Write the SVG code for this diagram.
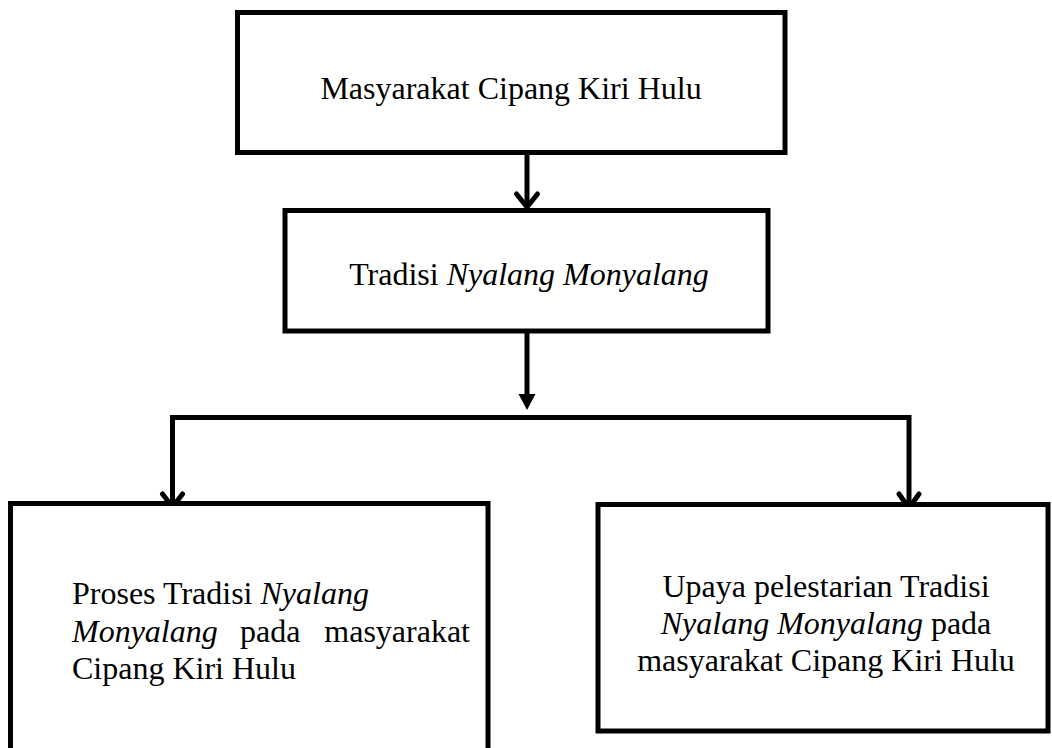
<svg xmlns="http://www.w3.org/2000/svg" width="1052" height="748" viewBox="0 0 1052 748">
<style>
.box{fill:#fff;stroke:#000;stroke-width:5}
.ln{fill:none;stroke:#000;stroke-width:5}
.chev{fill:none;stroke:#000;stroke-width:5;stroke-linecap:round;stroke-linejoin:miter}
.t{font-family:"Liberation Serif","Times New Roman",serif;font-size:32px;fill:#000}
.i{font-style:italic}
</style>
<rect width="1052" height="748" fill="#fff"/>
<g id="connectors">
  <line class="ln" x1="527" y1="152" x2="527" y2="207"/>
  <polyline class="chev" points="516.5,194 527,207 537.5,194"/>
  <line class="ln" x1="527" y1="331" x2="527" y2="396"/>
  <polygon points="518.5,394 535.5,394 527,410" fill="#000"/>
  <polyline class="ln" points="172.5,505 172.5,417.5 909,417.5 909,507"/>
  <polyline class="chev" points="162.5,494 172.5,507 182.5,494"/>
  <polyline class="chev" points="899,494 909,508 919,494"/>
</g>
<g id="node-masyarakat">
  <rect class="box" x="237.5" y="12.5" width="547.5" height="140"/>
  <text class="t" x="511" y="99" text-anchor="middle">Masyarakat Cipang Kiri Hulu</text>
</g>
<g id="node-tradisi">
  <rect class="box" x="285" y="210.5" width="483" height="120.5"/>
  <text class="t" x="529" y="285" text-anchor="middle">Tradisi <tspan class="i">Nyalang Monyalang</tspan></text>
</g>
<g id="node-proses">
  <rect class="box" x="10.5" y="503.5" width="477.5" height="260"/>
  <text class="t" x="72" y="604">Proses Tradisi <tspan class="i">Nyalang</tspan></text>
  <text class="t i" x="72" y="642">Monyalang</text>
  <text class="t" x="240" y="642">pada</text>
  <text class="t" x="470" y="642" text-anchor="end">masyarakat</text>
  <text class="t" x="72" y="679">Cipang Kiri Hulu</text>
</g>
<g id="node-upaya">
  <rect class="box" x="598" y="504.5" width="450" height="226.5"/>
  <text class="t" x="826" y="597" text-anchor="middle">Upaya pelestarian Tradisi</text>
  <text class="t" x="826" y="634" text-anchor="middle"><tspan class="i">Nyalang Monyalang</tspan> pada</text>
  <text class="t" x="826" y="671" text-anchor="middle">masyarakat Cipang Kiri Hulu</text>
</g>
</svg>
